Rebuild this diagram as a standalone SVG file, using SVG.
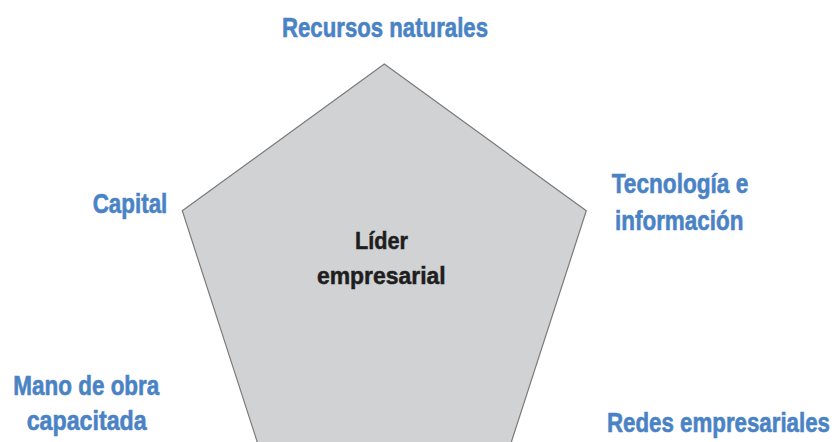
<svg xmlns="http://www.w3.org/2000/svg" width="835" height="442" viewBox="0 0 835 442">
<style>
.lbl{font-family:"Liberation Sans Narrow","Liberation Sans",Arial,sans-serif;font-weight:bold;font-size:27.5px;fill:#4a83c5;stroke:#4a83c5;stroke-width:0.6px;text-anchor:middle}
.ctr{font-family:"Liberation Sans Narrow","Liberation Sans",Arial,sans-serif;font-weight:bold;font-size:24.5px;fill:#1e1e1e;stroke:#1e1e1e;stroke-width:0.5px;text-anchor:middle}
</style>
<rect width="835" height="442" fill="#ffffff"/>
<g id="leader">
<polygon points="384.3,64 182.3,210.8 259.3,448.3 509.3,448.3 586.3,210.8" fill="#d1d2d4" stroke="#7a7a7a" stroke-width="1.2"/>
<text class="ctr" x="381.5" y="248.5" textLength="53" lengthAdjust="spacingAndGlyphs">Líder</text>
<text class="ctr" x="381.3" y="284" textLength="128.7" lengthAdjust="spacingAndGlyphs">empresarial</text>
</g>
<g id="connectors"></g>
<g id="recursos">
<text class="lbl" x="385" y="36.7" textLength="206" lengthAdjust="spacingAndGlyphs">Recursos naturales</text>
</g>
<g id="capital">
<text class="lbl" x="130" y="212.7" textLength="74.6" lengthAdjust="spacingAndGlyphs">Capital</text>
</g>
<g id="tecnologia">
<text class="lbl" x="680" y="193.3" textLength="136.6" lengthAdjust="spacingAndGlyphs">Tecnología e</text>
<text class="lbl" x="679.2" y="230" textLength="128.3" lengthAdjust="spacingAndGlyphs">información</text>
</g>
<g id="mano">
<text class="lbl" x="86.3" y="395" textLength="146" lengthAdjust="spacingAndGlyphs">Mano de obra</text>
<text class="lbl" x="86.7" y="430" textLength="120" lengthAdjust="spacingAndGlyphs">capacitada</text>
</g>
<g id="redes">
<text class="lbl" x="718.5" y="431.7" textLength="223" lengthAdjust="spacingAndGlyphs">Redes empresariales</text>
</g>
</svg>
